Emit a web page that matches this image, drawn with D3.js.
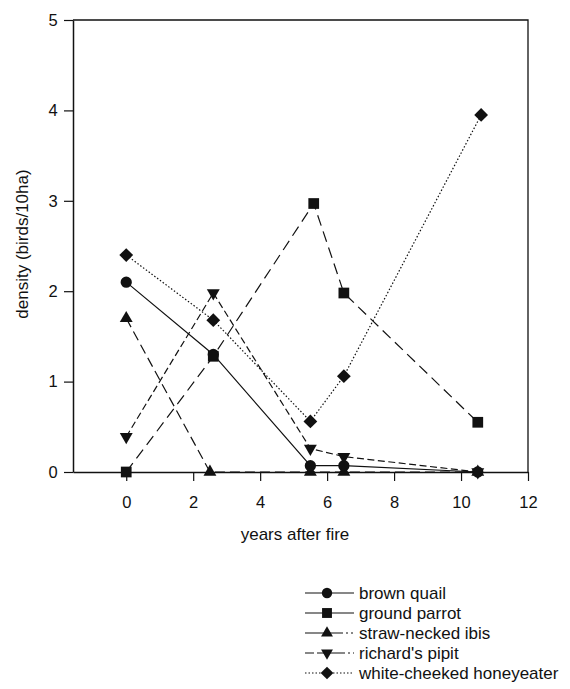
<!DOCTYPE html>
<html><head><meta charset="utf-8">
<script src="https://cdn.jsdelivr.net/npm/d3@7"></script>
<style>body{margin:0;background:#fff;} svg{display:block;font-family:"Liberation Sans",Arial,Helvetica,sans-serif;}</style>
</head><body>
<script>
const brownQuail = [[0,2.1],[2.6,1.3],[5.5,0.07],[6.5,0.07],[10.5,0]];
const groundParrot = [[0,0],[2.6,1.28],[5.6,2.97],[6.5,1.98],[10.5,0.55]];
const strawNeckedIbis = [[0,1.7],[2.5,0],[5.5,0],[6.5,0],[10.5,0]];
const richardsPipit = [[0,0.39],[2.6,1.98],[5.5,0.26],[6.5,0.17],[10.5,0]];
const whiteCheekedHoneyeater = [[0,2.4],[2.6,1.68],[5.5,0.56],[6.5,1.06],[10.6,3.95]];
const seriesNames = ["brown quail","ground parrot","straw-necked ibis","richard's pipit","white-cheeked honeyeater"];
const xTicks = [0,2,4,6,8,10,12];
const yTicks = [0,1,2,3,4,5];

const W=570,H=689;
const svg=d3.select("body").append("svg").attr("width",W).attr("height",H);
const x=d3.scaleLinear().domain([-1.59,12]).range([73,528]);
const y=d3.scaleLinear().domain([0,5]).range([472,20]);

const series=[
 {name:seriesNames[0],data:brownQuail,sym:d3.symbolCircle,size:100,rot:0,dash:null,ldash:null},
 {name:seriesNames[1],data:groundParrot,sym:d3.symbolSquare,size:115,rot:0,dash:"11,6",ldash:null},
 {name:seriesNames[2],data:strawNeckedIbis,sym:d3.symbolTriangle,size:72,rot:0,dash:"10,5",ldash:"38,3,2,3,2"},
 {name:seriesNames[3],data:richardsPipit,sym:d3.symbolTriangle,size:72,rot:180,dash:"7,3.5",ldash:"9,3,28,3,2,3,2"},
 {name:seriesNames[4],data:whiteCheekedHoneyeater,sym:d3.symbolSquare,size:95,rot:45,dash:"1.5,2",ldash:"1.5,2"}
];

// frame
svg.append("path").attr("d",`M${x(-1.59)},${y(5)}H${x(12)}V${y(0)}`).attr("fill","none").attr("stroke","#111").attr("stroke-width",1.3);

// axes
const gx=svg.append("g").attr("transform",`translate(0,${y(0)})`).call(d3.axisBottom(x).tickValues(xTicks).tickSize(9).tickSizeOuter(0).tickFormat(d3.format("d")));
const gy=svg.append("g").attr("transform",`translate(${x(-1.59)},0)`).call(d3.axisLeft(y).tickValues(yTicks).tickSize(9).tickSizeOuter(0).tickFormat(d3.format("d")));
[gx,gy].forEach(g=>{g.select(".domain").attr("stroke","#111").attr("stroke-width",1.5);g.selectAll(".tick line").attr("stroke","#111").attr("stroke-width",1.2);g.selectAll("text").attr("font-size",16.5).attr("fill","#111").attr("font-family","Liberation Sans, Arial, sans-serif");});
gx.selectAll("text").attr("dy","1.45em");
gy.selectAll("text").attr("dx","-0.2em");

svg.append("text").attr("x",295).attr("y",540).attr("text-anchor","middle").attr("font-size",17).attr("fill","#111").text("years after fire");
svg.append("text").attr("transform","translate(28,244) rotate(-90)").attr("text-anchor","middle").attr("font-size",17).attr("fill","#111").text("density (birds/10ha)");

const line=d3.line().x(d=>x(d[0])).y(d=>y(d[1]));
series.forEach(s=>{
  svg.append("path").datum(s.data).attr("d",line).attr("fill","none").attr("stroke","#111").attr("stroke-width",1.2).attr("stroke-dasharray",s.dash);
});
series.forEach(s=>{
  svg.selectAll(null).data(s.data).enter().append("path")
   .attr("d",d3.symbol().type(s.sym).size(s.size))
   .attr("transform",d=>`translate(${x(d[0])},${y(d[1])}) rotate(${s.rot})`)
   .attr("fill","#111");
});

// legend
const lg=svg.append("g");
series.forEach((s,i)=>{
  const yy=593+i*20;
  lg.append("line").attr("x1",305).attr("x2",354).attr("y1",yy).attr("y2",yy).attr("stroke","#111").attr("stroke-width",1.2).attr("stroke-dasharray",s.ldash);
  lg.append("path").attr("d",d3.symbol().type(s.sym).size(s.size*0.85)).attr("transform",`translate(327,${yy}) rotate(${s.rot})`).attr("fill","#111");
  lg.append("text").attr("x",359).attr("y",yy+6).attr("font-size",17).attr("fill","#111").text(s.name);
});
</script>
</body></html>
